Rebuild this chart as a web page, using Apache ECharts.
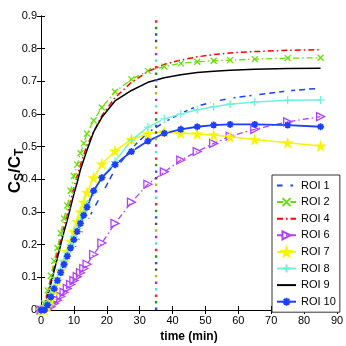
<!DOCTYPE html>
<html>
<head>
<meta charset="utf-8">
<script src="https://cdn.jsdelivr.net/npm/echarts@6/dist/echarts.min.js"></script>
<style>
  html, body { margin: 0; padding: 0; background: #fff; }
  #chart { width: 346px; height: 346px; }
</style>
</head>
<body>
<div id="chart"></div>
<script>
// sampling times (min), shared by every ROI curve
const times = [0, 1, 2, 3, 4, 5, 6, 7, 8, 9, 10, 11, 12, 13, 14, 16, 18.5, 22.5, 27.5, 32.5, 37.5, 42.5, 47.5, 52.5, 57.5, 65, 75, 85];

const roi1 = [0, 0, 0.008, 0.03, 0.052, 0.074, 0.096, 0.118, 0.14, 0.162, 0.184, 0.206, 0.228, 0.25, 0.27, 0.31, 0.355, 0.43, 0.495, 0.543, 0.575, 0.602, 0.624, 0.638, 0.648, 0.658, 0.671, 0.679];
const roi2 = [0, 0.02, 0.06, 0.105, 0.15, 0.19, 0.235, 0.28, 0.32, 0.365, 0.41, 0.445, 0.48, 0.51, 0.54, 0.58, 0.62, 0.668, 0.706, 0.732, 0.745, 0.755, 0.76, 0.763, 0.765, 0.768, 0.771, 0.772];
const roi4 = [0, 0.015, 0.05, 0.09, 0.13, 0.175, 0.215, 0.255, 0.295, 0.335, 0.375, 0.41, 0.445, 0.475, 0.505, 0.545, 0.595, 0.65, 0.697, 0.73, 0.752, 0.765, 0.775, 0.782, 0.787, 0.791, 0.795, 0.797];
const roi6 = [0, 0, 0.003, 0.01, 0.02, 0.03, 0.042, 0.054, 0.066, 0.078, 0.09, 0.102, 0.114, 0.127, 0.14, 0.17, 0.205, 0.265, 0.33, 0.385, 0.423, 0.459, 0.485, 0.51, 0.532, 0.553, 0.576, 0.592];
const roi7 = [0, 0, 0.01, 0.03, 0.06, 0.09, 0.12, 0.15, 0.18, 0.21, 0.24, 0.27, 0.3, 0.33, 0.36, 0.405, 0.447, 0.487, 0.522, 0.54, 0.545, 0.541, 0.539, 0.536, 0.53, 0.522, 0.512, 0.502];
const roi8 = [0, 0.005, 0.025, 0.05, 0.075, 0.1, 0.125, 0.15, 0.175, 0.2, 0.225, 0.25, 0.275, 0.3, 0.325, 0.36, 0.405, 0.455, 0.52, 0.56, 0.585, 0.6, 0.613, 0.622, 0.63, 0.637, 0.642, 0.643];
const roi9 = [0, 0.01, 0.04, 0.08, 0.12, 0.16, 0.2, 0.24, 0.275, 0.315, 0.355, 0.39, 0.43, 0.46, 0.49, 0.545, 0.59, 0.64, 0.672, 0.697, 0.711, 0.72, 0.727, 0.731, 0.734, 0.737, 0.739, 0.74];
const roi10 = [0, 0, 0.015, 0.04, 0.065, 0.09, 0.115, 0.14, 0.165, 0.19, 0.215, 0.24, 0.265, 0.29, 0.315, 0.365, 0.405, 0.445, 0.485, 0.517, 0.541, 0.553, 0.561, 0.566, 0.568, 0.568, 0.566, 0.561];

const markTime = 35;
const xTicks = [0, 90, 10];
const yTicks = [0, 0.9, 0.1];

// dotted marker line colours, bottom to top
const dotColors = ['#2050ff', '#1f9a1f', '#ff2020', '#4de6c8', '#9a30f0', '#a8c010', '#505050'];

const font = 'Liberation Sans, Arial, sans-serif';

const SYM = {
    x: 'path://M0,0L10,10M10,0L0,10',
    plus: 'path://M5,0L5,10M0,5L10,5',
    star: 'path://M5,0L5,10M0,5L10,5M1.5,1.5L8.5,8.5M8.5,1.5L1.5,8.5',
    pent: 'path://M50,0L61,35L98,35L68,57L79,91L50,70L21,91L32,57L2,35L39,35Z',
    tri: 'path://M0,0L10,5L0,10Z'
};

function pairs(vals) {
    return times.map((t, i) => [t, vals[i]]);
}

function roiSeries(name, vals, color, opts) {
    const clear = 'rgba(0,0,0,0)';
    let itemStyle;
    if (!opts.symbol) {
        // plain line: keep the legend icon marker invisible
        itemStyle = { color: clear, borderColor: clear, borderWidth: 0 };
    } else if (opts.fill) {
        itemStyle = { color: color, borderColor: color, borderWidth: 0.5 };
    } else {
        itemStyle = { color: clear, borderColor: color, borderWidth: opts.bw || 1.3 };
    }
    return {
        name: name,
        type: 'line',
        data: pairs(vals),
        color: color,
        symbol: opts.symbol || 'circle',
        symbolSize: opts.size || 7,
        showSymbol: !!opts.symbol,
        showAllSymbol: true,
        lineStyle: { color: color, width: opts.width || 1.5, type: opts.dash || 'solid' },
        itemStyle: itemStyle,
        z: 3
    };
}

const series = [
    roiSeries('ROI 1', roi1, '#1f3fff', { symbol: 'emptyCircle', size: 7, dash: [6, 4], width: 1.5, bw: 1.5 }),
    roiSeries('ROI 2', roi2, '#66e000', { symbol: SYM.x, size: 6, dash: [6, 3, 1.5, 3], width: 1.3 }),
    roiSeries('ROI 4', roi4, '#ff0000', { dash: [6, 3, 1.5, 3], width: 1.5 }),
    roiSeries('ROI 6', roi6, '#b040ff', { symbol: SYM.tri, size: 8, dash: [6, 3, 1.5, 3], width: 1.3 }),
    roiSeries('ROI 7', roi7, '#f5f500', { symbol: SYM.pent, size: 11, fill: true, width: 1.5 }),
    roiSeries('ROI 8', roi8, '#70f0dc', { symbol: SYM.plus, size: 8, width: 1.5 }),
    roiSeries('ROI 9', roi9, '#000000', { width: 1.5 }),
    roiSeries('ROI 10', roi10, '#1f3fff', { symbol: SYM.star, size: 7, width: 1.8, bw: 1.8 })
];

const dotStep = 6.53;
const dotPeriod = dotStep * dotColors.length;
dotColors.forEach((c, k) => {
    series.push({
        type: 'line',
        data: [[markTime, yTicks[0]], [markTime, yTicks[1]]],
        symbol: 'none',
        silent: true,
        lineStyle: { color: c, width: 2.4, cap: 'butt', type: [2.4, dotPeriod - 2.4], dashOffset: dotPeriod - k * dotStep },
        z: 5
    });
});

const chart = echarts.init(document.getElementById('chart'));

const hiddenAxis = {
    axisLabel: { show: false },
    axisTick: { inside: true, length: 4, lineStyle: { color: '#000' } },
    axisLine: { show: true, lineStyle: { color: '#000', width: 1 } },
    splitLine: { show: false }
};

chart.setOption({
    animation: false,
    backgroundColor: '#fff',
    grid: { left: 41, right: 9, top: 16, bottom: 36, containLabel: false, outerBoundsMode: 'none' },
    legend: {
        data: ['ROI 1', 'ROI 2', 'ROI 4', 'ROI 6', 'ROI 7', 'ROI 8', 'ROI 9', 'ROI 10'],
        orient: 'vertical',
        left: 272,
        top: 175,
        width: 63,
        padding: [5, 4, 5, 4],
        itemGap: 5.6,
        itemWidth: 19,
        itemHeight: 10,
        borderColor: '#333',
        borderWidth: 1,
        backgroundColor: '#fff',
        textStyle: { fontFamily: font, fontSize: 11, color: '#000', lineHeight: 10 }
    },
    xAxis: [{
        type: 'value',
        min: xTicks[0], max: xTicks[1], interval: xTicks[2],
        name: 'time (min)',
        nameLocation: 'middle',
        nameGap: 21,
        nameMoveOverlap: false,
        nameTextStyle: { fontFamily: font, fontSize: 12, fontWeight: 'bold', color: '#000' },
        axisLabel: { fontFamily: font, fontSize: 11, color: '#000', margin: 5 },
        axisTick: { inside: true, length: 4, lineStyle: { color: '#000' } },
        axisLine: { show: true, onZero: false, lineStyle: { color: '#000', width: 1 } },
        splitLine: { show: false }
    }, Object.assign({
        type: 'value', position: 'top',
        min: xTicks[0], max: xTicks[1], interval: xTicks[2]
    }, hiddenAxis)],
    yAxis: [{
        type: 'value',
        min: yTicks[0], max: yTicks[1], interval: yTicks[2],
        name: '{b|C}{s|S}{b|/C}{s|T}',
        nameLocation: 'middle',
        nameGap: 15,
        nameMoveOverlap: false,
        nameTextStyle: {
            padding: [0, 16, 0, 0],
            rich: {
                b: { fontFamily: font, fontSize: 17, fontWeight: 'bold', color: '#000', lineHeight: 22, verticalAlign: 'middle' },
                s: { fontFamily: font, fontSize: 12, fontWeight: 'bold', color: '#000', lineHeight: 22, verticalAlign: 'bottom' }
            }
        },
        axisLabel: { fontFamily: font, fontSize: 11, color: '#000', margin: 4 },
        axisTick: { inside: true, length: 4, lineStyle: { color: '#000' } },
        axisLine: { show: true, onZero: false, lineStyle: { color: '#000', width: 1 } },
        splitLine: { show: false }
    }, Object.assign({
        type: 'value', position: 'right',
        min: yTicks[0], max: yTicks[1], interval: yTicks[2]
    }, hiddenAxis)],
    series: series
});
</script>
</body>
</html>
